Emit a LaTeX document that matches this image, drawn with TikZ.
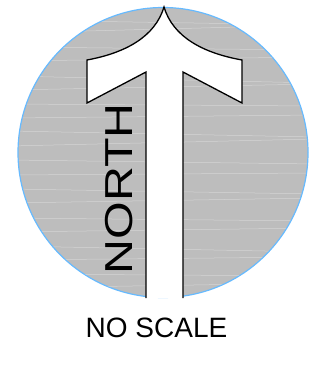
\documentclass[tikz,border=0pt]{standalone}
\usepackage{fontspec}
\setmainfont{Liberation Sans}
\begin{document}
\begin{tikzpicture}[x=1pt,y=-1pt,
  disc/.style={fill=gray!52, draw=blue!45!cyan!60!white, line width=1.2pt},
  arrowshape/.style={fill=white, draw=black, line width=1.3pt, line join=miter},
  lbl/.style={inner sep=0pt, font=\fontsize{28}{30}\selectfont}]
\useasboundingbox (0,0) rectangle (324,379);
\node[circle, minimum size=290pt, inner sep=0pt, disc] (c) at (163,152.5) {};
\begin{scope}
\clip (163,152.5) circle (144.5pt);
\foreach \yy/\dx in {20/5,33/-8,47/3,61/-4,76/7,90/-6,104/2,118/-3,131/6,146/-7,160/4,175/-2,189/5,203/-5,218/3,232/-4,246/6,260/-3,274/2,288/-5}{
  \draw[white, opacity=0.35, line width=0.5pt] (10,\yy) -- (316,\yy+\dx);
}
\end{scope}
\coordinate (tip) at (164,7);
\coordinate (lb) at (146,298);
\coordinate (rb) at (183,298);
\fill[white] (lb) -- (146,72) -- (87,103) -- (87,60) .. controls (125,53) and (155,37) .. (tip)
  .. controls (173,37) and (203,53) .. (242,60) -- (242,103) -- (183,72) -- (rb) -- cycle;
\draw[arrowshape, fill=none] (lb) -- (146,72) -- (87,103) -- (87,60) .. controls (125,53) and (155,37) .. (tip)
  .. controls (173,37) and (203,53) .. (242,60) -- (242,103) -- (183,72) -- (rb);
\node[lbl, rotate=90, font=\fontsize{39}{40}\selectfont] (north) at (119.5,189) {\scalebox{1.24}[1]{NORTH}};
\node[lbl] (noscale) at (156.5,328) {NO SCALE};
\end{tikzpicture}
\end{document}
